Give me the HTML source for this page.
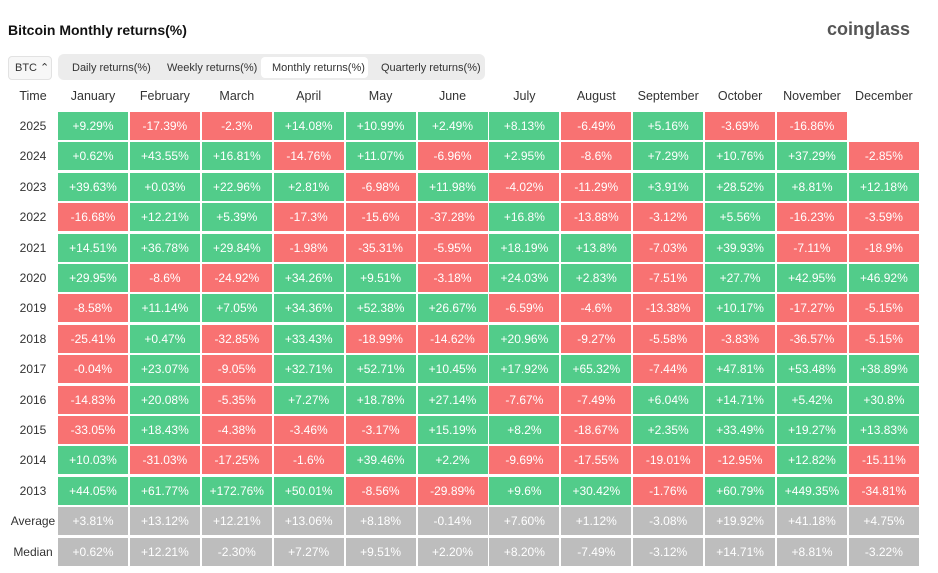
<!DOCTYPE html>
<html><head><style>
body{margin:0;width:938px;height:573px;background:#fff;font-family:"Liberation Sans",sans-serif;position:relative;overflow:hidden}
.a{position:absolute}
.c{position:absolute;width:70px;height:28px;line-height:28px;text-align:center;color:#fff;font-size:12px}
.g{background:#52cc8a}.r{background:#f87272}.y{background:#bdbdbd}
.h{position:absolute;width:72px;text-align:center;font-size:12.5px;color:#333;top:89px}
.t{position:absolute;left:8px;width:50px;text-align:center;font-size:12px;color:#333}
</style></head><body>
<div class="a" style="left:8px;top:22px;font-size:14px;font-weight:bold;color:#111">Bitcoin Monthly returns(%)</div>
<div class="a" style="left:827px;top:19px;font-size:18px;font-weight:bold;color:#555">coinglass</div>
<div class="a" style="left:8px;top:56px;width:42px;height:22px;border:1px solid #e2e2e2;border-radius:4px;background:#f7f7f7;font-size:11px;line-height:22px;color:#333;text-indent:6px">BTC ⌃</div>
<div class="a" style="left:58px;top:54px;width:427px;height:26px;background:#ececec;border-radius:6px"></div>
<div class="a" style="left:261px;top:57px;width:107px;height:21px;background:#fff;border-radius:4px"></div>
<div class="a" style="left:72px;top:62px;font-size:11px;color:#333">Daily returns(%)</div>
<div class="a" style="left:167px;top:62px;font-size:11px;color:#333">Weekly returns(%)</div>
<div class="a" style="left:272px;top:62px;font-size:11px;color:#333">Monthly returns(%)</div>
<div class="a" style="left:381px;top:62px;font-size:11px;color:#333">Quarterly returns(%)</div>
<div id="g"></div>
<script>
var m=["January","February","March","April","May","June","July","August","September","October","November","December"];
var d=[["2025","+9.29%","-17.39%","-2.3%","+14.08%","+10.99%","+2.49%","+8.13%","-6.49%","+5.16%","-3.69%","-16.86%",""],
["2024","+0.62%","+43.55%","+16.81%","-14.76%","+11.07%","-6.96%","+2.95%","-8.6%","+7.29%","+10.76%","+37.29%","-2.85%"],
["2023","+39.63%","+0.03%","+22.96%","+2.81%","-6.98%","+11.98%","-4.02%","-11.29%","+3.91%","+28.52%","+8.81%","+12.18%"],
["2022","-16.68%","+12.21%","+5.39%","-17.3%","-15.6%","-37.28%","+16.8%","-13.88%","-3.12%","+5.56%","-16.23%","-3.59%"],
["2021","+14.51%","+36.78%","+29.84%","-1.98%","-35.31%","-5.95%","+18.19%","+13.8%","-7.03%","+39.93%","-7.11%","-18.9%"],
["2020","+29.95%","-8.6%","-24.92%","+34.26%","+9.51%","-3.18%","+24.03%","+2.83%","-7.51%","+27.7%","+42.95%","+46.92%"],
["2019","-8.58%","+11.14%","+7.05%","+34.36%","+52.38%","+26.67%","-6.59%","-4.6%","-13.38%","+10.17%","-17.27%","-5.15%"],
["2018","-25.41%","+0.47%","-32.85%","+33.43%","-18.99%","-14.62%","+20.96%","-9.27%","-5.58%","-3.83%","-36.57%","-5.15%"],
["2017","-0.04%","+23.07%","-9.05%","+32.71%","+52.71%","+10.45%","+17.92%","+65.32%","-7.44%","+47.81%","+53.48%","+38.89%"],
["2016","-14.83%","+20.08%","-5.35%","+7.27%","+18.78%","+27.14%","-7.67%","-7.49%","+6.04%","+14.71%","+5.42%","+30.8%"],
["2015","-33.05%","+18.43%","-4.38%","-3.46%","-3.17%","+15.19%","+8.2%","-18.67%","+2.35%","+33.49%","+19.27%","+13.83%"],
["2014","+10.03%","-31.03%","-17.25%","-1.6%","+39.46%","+2.2%","-9.69%","-17.55%","-19.01%","-12.95%","+12.82%","-15.11%"],
["2013","+44.05%","+61.77%","+172.76%","+50.01%","-8.56%","-29.89%","+9.6%","+30.42%","-1.76%","+60.79%","+449.35%","-34.81%"],
["Average","+3.81%","+13.12%","+12.21%","+13.06%","+8.18%","-0.14%","+7.60%","+1.12%","-3.08%","+19.92%","+41.18%","+4.75%"],
["Median","+0.62%","+12.21%","-2.30%","+7.27%","+9.51%","+2.20%","+8.20%","-7.49%","-3.12%","+14.71%","+8.81%","-3.22%"]];
var h='<div class="t" style="top:89px;font-size:12.5px">Time</div>';
for(var j=0;j<12;j++)h+='<div class="h" style="left:'+(57+j*71.9)+'px">'+m[j]+'</div>';
for(var i=0;i<d.length;i++){var yy=112+i*30.4;
h+='<div class="t" style="top:'+(yy+7)+'px">'+d[i][0]+'</div>';
for(var j=0;j<12;j++){var v=d[i][j+1];if(!v)continue;var cl=i>=13?'y':(v[0]=='-'?'r':'g');
h+='<div class="c '+cl+'" style="left:'+(58+j*71.9)+'px;top:'+yy+'px">'+v+'</div>';}}
document.getElementById('g').innerHTML=h;
</script>
</body></html>
